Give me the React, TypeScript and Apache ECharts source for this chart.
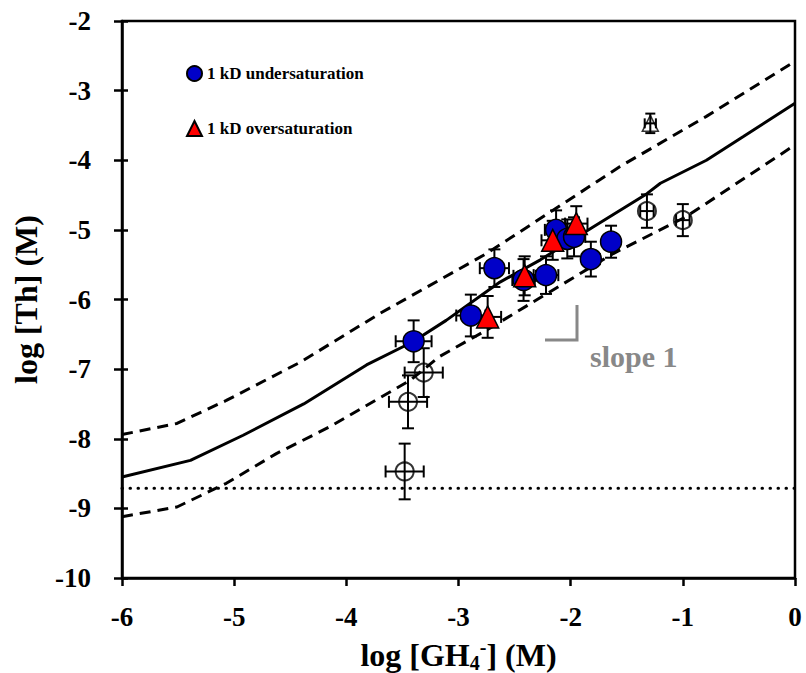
import React, { useEffect, useRef } from "react";
import * as echarts from "echarts";

// axis tick values
const xTicks = [-6, -5, -4, -3, -2, -1, 0];
const yTicks = [-10, -9, -8, -7, -6, -5, -4, -3, -2];

// model curves [log GH4-, log Th]
const modelCurve = [
  [-6, -8.55], [-5.39, -8.31], [-4.92, -7.95], [-4.38, -7.5], [-3.82, -6.94],
  [-3.41, -6.61], [-3.11, -6.3], [-2.63, -5.75], [-2.27, -5.43], [-1.8, -4.96],
  [-1.32, -4.48], [-1.2, -4.33], [-0.79, -4.0], [-0.46, -3.66], [0, -3.18],
];
const upperBound = [
  [-6, -7.94], [-5.51, -7.78], [-5.07, -7.45], [-4.41, -6.9], [-3.7, -6.2],
  [-2.75, -5.34], [-1.74, -4.28], [-1.56, -4.09], [-0.79, -3.37], [0, -2.58],
];
const lowerBound = [
  [-6, -9.12], [-5.51, -8.98], [-5.07, -8.64], [-4.62, -8.21], [-4.15, -7.83],
  [-3.43, -7.16], [-3.17, -6.82], [-2.75, -6.44], [-1.62, -5.34], [-0.97, -4.81],
  [0, -3.78],
];
const detectionLimit = [[-6, -8.71], [0, -8.71]];

// [x, y, xErr, yErr]
const underSat = [
  [-3.4, -6.6, 0.16, 0.3],
  [-2.89, -6.23, 0.13, 0.3],
  [-2.68, -5.55, 0.13, 0.27],
  [-2.42, -5.72, 0.1, 0.3],
  [-2.22, -5.65, 0.11, 0.27],
  [-2.13, -5.0, 0.1, 0.28],
  [-2.03, -5.13, 0.1, 0.28],
  [-1.97, -5.1, 0.1, 0.28],
  [-1.82, -5.42, 0.08, 0.25],
  [-1.64, -5.17, 0.07, 0.23],
];
const overSat = [
  [-2.74, -6.25, 0.12, 0.3],
  [-2.41, -5.66, 0.1, 0.28],
  [-2.16, -5.15, 0.1, 0.28],
  [-1.95, -4.91, 0.1, 0.25],
];
const openCircles = [
  [-1.32, -4.73, 0.06, 0.24],
  [-1.0, -4.86, 0.06, 0.23],
  [-3.31, -7.05, 0.17, 0.35],
  [-3.45, -7.47, 0.17, 0.38],
  [-3.48, -8.47, 0.17, 0.4],
];
const openTriangles = [[-1.29, -3.47, 0.05, 0.14]];

const FONT = "'Liberation Serif', 'Times New Roman', serif";

function errorBarSeries(data: number[][], cap: number, z: number) {
  return {
    type: "custom",
    z,
    silent: true,
    data,
    renderItem: (params: any, api: any) => {
      const x = api.value(0);
      const y = api.value(1);
      const ex = api.value(2);
      const ey = api.value(3);
      const l = api.coord([x - ex, y]);
      const r = api.coord([x + ex, y]);
      const t = api.coord([x, y + ey]);
      const b = api.coord([x, y - ey]);
      const style = { stroke: "#000", lineWidth: 2 };
      return {
        type: "group",
        children: [
          { type: "line", shape: { x1: l[0], y1: l[1], x2: r[0], y2: r[1] }, style },
          { type: "line", shape: { x1: l[0], y1: l[1] - cap, x2: l[0], y2: l[1] + cap }, style },
          { type: "line", shape: { x1: r[0], y1: r[1] - cap, x2: r[0], y2: r[1] + cap }, style },
          { type: "line", shape: { x1: t[0], y1: t[1], x2: b[0], y2: b[1] }, style },
          { type: "line", shape: { x1: t[0] - cap, y1: t[1], x2: t[0] + cap, y2: t[1] }, style },
          { type: "line", shape: { x1: b[0] - cap, y1: b[1], x2: b[0] + cap, y2: b[1] }, style },
        ],
      };
    },
  };
}

export default function App() {
  const ref = useRef<HTMLDivElement>(null);
  useEffect(() => {
    if (!ref.current) return;
    const chart = echarts.init(ref.current, null, { renderer: "svg" });
    const labelStyle = { color: "#000", fontFamily: FONT, fontWeight: "bold", fontSize: 27 };
    chart.setOption({
      animation: false,
      backgroundColor: "#fff",
      grid: {
        left: 122, right: 11, top: 21, bottom: 95,
        outerBoundsMode: "none",
        containLabel: false,
        show: true, borderColor: "#000", borderWidth: 2.5, backgroundColor: "transparent",
      },
      legend: {
        orient: "vertical",
        left: 181,
        top: 60,
        itemGap: 38,
        itemWidth: 15,
        itemHeight: 15,
        selectedMode: false,
        textStyle: { color: "#000", fontFamily: FONT, fontWeight: "bold", fontSize: 17, lineHeight: 16 },
        data: [
          { name: "1 kD undersaturation", icon: "circle" },
          { name: "1 kD oversaturation", icon: "triangle" },
        ],
      },
      xAxis: {
        type: "value",
        min: xTicks[0],
        max: xTicks[xTicks.length - 1],
        interval: 1,
        splitLine: { show: false },
        axisLine: { onZero: false, lineStyle: { color: "#000", width: 2.5 } },
        axisTick: { inside: false, length: 8, lineStyle: { color: "#000", width: 2.5 } },
        axisLabel: { ...labelStyle, margin: 25 },
        name: "log [GH{sub|4}{sup|-}] (M)",
        nameLocation: "middle",
        nameGap: 59,
        nameTextStyle: {
          ...labelStyle,
          fontSize: 32,
          lineHeight: 36,
          rich: {
            sub: { fontFamily: FONT, fontWeight: "bold", fontSize: 20, lineHeight: 16, verticalAlign: "bottom", color: "#000" },
            sup: { fontFamily: FONT, fontWeight: "bold", fontSize: 20, lineHeight: 24, verticalAlign: "top", color: "#000" },
          },
        },
      },
      yAxis: [
        {
          type: "value",
          min: yTicks[0],
          max: yTicks[yTicks.length - 1],
          interval: 1,
          splitLine: { show: false },
          axisLine: { onZero: false, lineStyle: { color: "#000", width: 2.5 } },
          axisTick: { inside: false, length: 8, lineStyle: { color: "#000", width: 2.5 } },
          axisLabel: { ...labelStyle, margin: 31 },
          name: "log [Th] (M)",
          nameLocation: "middle",
          nameGap: 80,
          nameTextStyle: { ...labelStyle, fontSize: 32 },
        },
        {
          type: "value",
          position: "left",
          min: yTicks[0],
          max: yTicks[yTicks.length - 1],
          interval: 1,
          splitLine: { show: false },
          axisLine: { show: false, onZero: false },
          axisTick: { inside: true, length: 6, lineStyle: { color: "#000", width: 2.5 } },
          axisLabel: { show: false },
        },
      ],
      graphic: [
        {
          type: "polyline",
          shape: { points: [[545, 340], [577, 340], [577, 305]] },
          style: { stroke: "#888", lineWidth: 3, fill: "none" },
          z: 10,
        },
        {
          type: "text",
          left: 590,
          top: 341,
          style: { text: "slope 1", fill: "#888", font: `bold 30px ${FONT}` },
          z: 10,
        },
      ],
      series: [
        {
          type: "line", data: detectionLimit, showSymbol: false, silent: true, z: 1,
          lineStyle: { color: "#000", width: 3, type: [0.5, 7.5], cap: "round" },
        },
        {
          type: "line", data: upperBound, showSymbol: false, silent: true, z: 1,
          lineStyle: { color: "#000", width: 3, type: [11, 7] },
        },
        {
          type: "line", data: lowerBound, showSymbol: false, silent: true, z: 1,
          lineStyle: { color: "#000", width: 3, type: [11, 7] },
        },
        {
          type: "line", data: modelCurve, showSymbol: false, silent: true, z: 1,
          lineStyle: { color: "#000", width: 3, type: "solid" },
        },
        errorBarSeries(openCircles, 6, 2),
        errorBarSeries(openTriangles, 5, 2),
        errorBarSeries(underSat, 6, 2),
        errorBarSeries(overSat, 6, 2),
        {
          type: "scatter", name: "open circles",
          data: openCircles.map((d) => [d[0], d[1]]),
          symbol: "circle", symbolSize: 18, z: 3,
          itemStyle: { color: "rgba(0,0,0,0)", borderColor: "#000", borderWidth: 2 },
        },
        {
          type: "scatter", name: "open triangles",
          data: openTriangles.map((d) => [d[0], d[1]]),
          symbol: "triangle", symbolSize: 16, z: 3,
          itemStyle: { color: "rgba(0,0,0,0)", borderColor: "#000", borderWidth: 1.5 },
        },
        {
          type: "scatter", name: "1 kD undersaturation",
          data: underSat.map((d) => [d[0], d[1]]),
          symbol: "circle", symbolSize: 21, z: 4,
          itemStyle: { color: "#0000C8", borderColor: "#000", borderWidth: 1.5, opacity: 1 },
        },
        {
          type: "scatter", name: "1 kD oversaturation",
          data: overSat.map((d) => [d[0], d[1]]),
          symbol: "triangle", symbolSize: 22, z: 5,
          itemStyle: { color: "#FF0000", borderColor: "#000", borderWidth: 1.5, opacity: 1 },
        },
      ],
    });
    return () => chart.dispose();
  }, []);
  return (
    <div
      ref={ref}
      style={{ position: "fixed", left: 0, top: 0, width: 806, height: 673, background: "#fff" }}
    />
  );
}
